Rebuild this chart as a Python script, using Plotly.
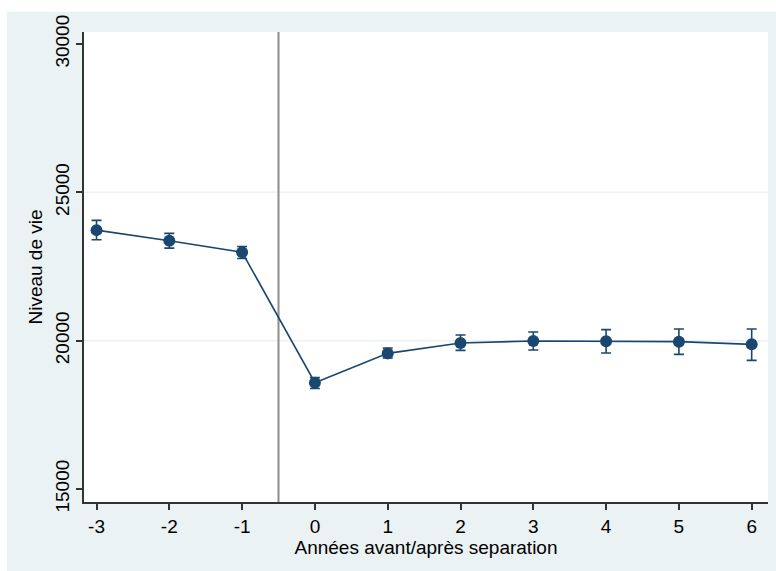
import plotly.graph_objects as go

# Years relative to separation and mean standard of living with CI bounds
annees = [-3, -2, -1, 0, 1, 2, 3, 4, 5, 6]
niveau = [23726, 23368, 22983, 18581, 19571, 19921, 19990, 19977, 19966, 19875]
borne_haute = [24054, 23615, 23176, 18760, 19753, 20192, 20294, 20372, 20395, 20395]
borne_basse = [23402, 23118, 22770, 18389, 19415, 19672, 19686, 19583, 19538, 19334]

y_ticks = [15000, 20000, 25000, 30000]
x_ticks = annees
separation = -0.5

navy = "#1A476F"
bg = "#EAF2F3"
font = "Liberation Sans, Arial, sans-serif"

err_plus = [h - m for h, m in zip(borne_haute, niveau)]
err_minus = [m - b for m, b in zip(niveau, borne_basse)]

fig = go.Figure()
fig.add_trace(go.Scatter(
    x=annees, y=niveau, mode="lines+markers",
    line=dict(color=navy, width=1.6),
    marker=dict(color=navy, size=12),
    error_y=dict(type="data", symmetric=False, array=err_plus, arrayminus=err_minus,
                 color=navy, thickness=1.6, width=5),
    showlegend=False,
))

shapes = [
    # outer light background
    dict(type="rect", xref="paper", yref="paper", x0=-0.1126, x1=1.03, y0=-0.16, y1=1.043,
         fillcolor=bg, line=dict(width=0), layer="below"),
    # white plot region
    dict(type="rect", xref="paper", yref="paper", x0=0, x1=1, y0=0, y1=1,
         fillcolor="white", line=dict(width=0), layer="below"),
]
# interior gridlines
for v in y_ticks[1:-1]:
    shapes.append(dict(type="line", xref="paper", yref="y", x0=0, x1=1, y0=v, y1=v,
                       line=dict(color=bg, width=1.5), layer="below"))
# separation marker
shapes.append(dict(type="line", xref="x", yref="paper", x0=separation, x1=separation, y0=0, y1=1,
                   line=dict(color="#8C8C8C", width=2), layer="below"))

fig.update_layout(
    width=776, height=571,
    margin=dict(l=84, r=8, t=32, b=69),
    paper_bgcolor="white", plot_bgcolor="rgba(0,0,0,0)",
    font=dict(family=font, size=19, color="black"),
    shapes=shapes,
    xaxis=dict(range=[-3.172, 6.224], tickvals=x_ticks, ticktext=[str(v) for v in x_ticks],
               showgrid=False, zeroline=False, showline=True, linecolor="#333", linewidth=1.5,
               ticks="outside", ticklen=6, tickcolor="#333", tickwidth=1.5,
               title=dict(text="Années avant/après separation", standoff=0,
                          font=dict(size=19))),
    yaxis=dict(range=[14561, 30405], tickvals=y_ticks, ticktext=[str(v) for v in y_ticks],
               tickangle=-90, showgrid=False, zeroline=False, showline=True,
               linecolor="#333", linewidth=1.5,
               ticks="outside", ticklen=6, tickcolor="#333", tickwidth=1.5,
               title=dict(text="Niveau de vie", standoff=4, font=dict(size=19))),
)

fig.write_html("out.html")
